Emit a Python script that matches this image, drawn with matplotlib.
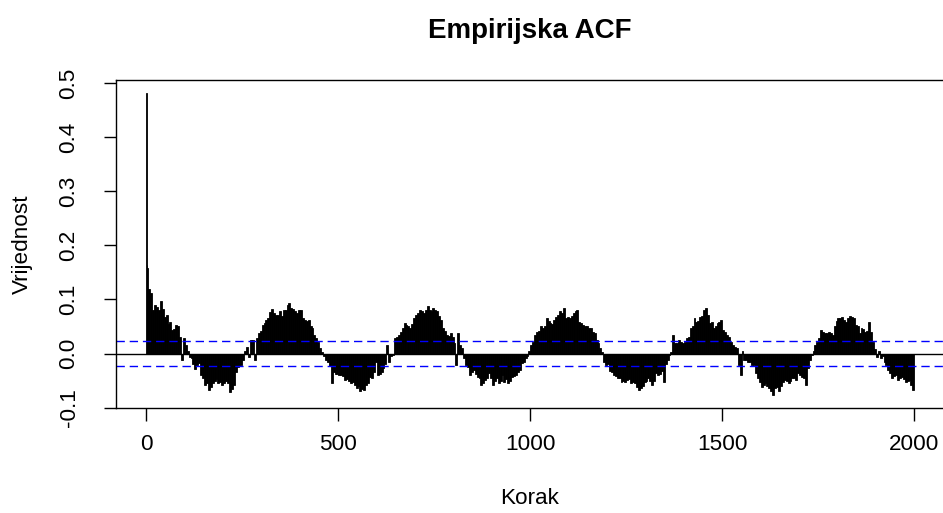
import numpy as np
import matplotlib
matplotlib.use("Agg")
import matplotlib.pyplot as plt

plt.rcParams['font.family'] = ['Liberation Sans', 'DejaVu Sans']

# ---- data ----
title = "Empirijska ACF"
x_label = "Korak"
y_label = "Vrijednost"

first_lags = [0, 1, 2, 3, 4]
first_acf = [0.482, 0.163, 0.158, 0.120, 0.118]

# ACF values for 5-lag bins starting at lag 5, 10, ..., 1995
bin_acf = [
    0.120, 0.111, 0.080, 0.089, 0.086, 0.080, 0.097, 0.083, 0.068,               # 5-45
    0.071, 0.055, 0.058, 0.043, 0.045, 0.052, 0.050, 0.030, -0.012, 0.028,       # 50-95
    0.015, 0.004, -0.006, -0.008, -0.020, -0.028, -0.022, -0.018, -0.040, -0.045,  # 100-145
    -0.058, -0.055, -0.068, -0.062, -0.055, -0.050, -0.048, -0.055, -0.052, -0.058,  # 150-195
    -0.055, -0.050, -0.055, -0.071, -0.065, -0.058, -0.035, -0.025, -0.022, -0.022,  # 200-245
    -0.012, 0.005, 0.012, -0.006, 0.025, 0.025, -0.012, 0.028, 0.037, 0.042,     # 250-295
    0.052, 0.056, 0.062, 0.065, 0.077, 0.083, 0.075, 0.072, 0.071, 0.078,        # 300-345
    0.070, 0.081, 0.080, 0.090, 0.093, 0.084, 0.083, 0.078, 0.075, 0.081,        # 350-395
    0.080, 0.065, 0.062, 0.060, 0.062, 0.050, 0.047, 0.035, 0.028, 0.022,        # 400-445
    0.010, 0.003, -0.004, -0.012, -0.015, -0.024, -0.055, -0.035, -0.037, -0.038,  # 450-495
    -0.040, -0.040, -0.042, -0.049, -0.047, -0.050, -0.055, -0.053, -0.058, -0.064,  # 500-545
    -0.060, -0.070, -0.065, -0.068, -0.058, -0.055, -0.043, -0.045, -0.035, -0.015,  # 550-595
    -0.040, -0.038, -0.035, -0.027, -0.020, 0.016, -0.015, -0.005, -0.003, 0.028,  # 600-645
    0.030, 0.035, 0.040, 0.047, 0.056, 0.052, 0.050, 0.048, 0.055, 0.065,        # 650-695
    0.072, 0.075, 0.081, 0.078, 0.075, 0.080, 0.087, 0.081, 0.078, 0.084,        # 700-745
    0.080, 0.078, 0.070, 0.062, 0.047, 0.042, 0.035, 0.033, 0.038, 0.030,        # 750-795
    0.019, -0.021, 0.038, 0.016, 0.010, -0.009, -0.021, -0.025, -0.040, -0.035,  # 800-845
    -0.030, -0.038, -0.043, -0.045, -0.058, -0.055, -0.049, -0.045, -0.036, -0.045,  # 850-895
    -0.058, -0.050, -0.046, -0.055, -0.050, -0.040, -0.052, -0.048, -0.055, -0.050,  # 900-945
    -0.043, -0.042, -0.040, -0.035, -0.030, -0.018, -0.015, -0.009, -0.004, 0.004,  # 950-995
    0.015, 0.022, 0.035, 0.040, 0.042, 0.050, 0.048, 0.050, 0.065, 0.060,        # 1000-1045
    0.056, 0.055, 0.062, 0.068, 0.071, 0.078, 0.075, 0.085, 0.065, 0.068,        # 1050-1095
    0.066, 0.070, 0.075, 0.078, 0.081, 0.059, 0.056, 0.053, 0.050, 0.050,        # 1100-1145
    0.048, 0.047, 0.040, 0.038, 0.025, 0.020, 0.010, 0.003, -0.015, -0.021,      # 1150-1195
    -0.020, -0.033, -0.035, -0.040, -0.042, -0.046, -0.045, -0.052, -0.050, -0.052,  # 1200-1245
    -0.049, -0.047, -0.055, -0.053, -0.055, -0.062, -0.067, -0.064, -0.060, -0.052,  # 1250-1295
    -0.050, -0.046, -0.050, -0.058, -0.050, -0.036, -0.040, -0.038, -0.033, -0.052,  # 1300-1345
    -0.020, -0.012, -0.002, 0.003, 0.035, 0.019, 0.020, 0.025, 0.022, 0.020,     # 1350-1395
    0.022, 0.028, 0.030, 0.047, 0.050, 0.065, 0.059, 0.060, 0.068, 0.070,        # 1400-1445
    0.081, 0.084, 0.071, 0.056, 0.058, 0.047, 0.050, 0.056, 0.059, 0.062,        # 1450-1495
    0.044, 0.040, 0.035, 0.030, 0.022, 0.016, 0.012, 0.010, -0.021, -0.040,      # 1500-1545
    0.004, -0.012, -0.012, -0.015, -0.015, -0.021, -0.022, -0.036, -0.045, -0.052,  # 1550-1595
    -0.061, -0.058, -0.055, -0.060, -0.064, -0.070, -0.076, -0.064, -0.062, -0.070,  # 1600-1645
    -0.060, -0.052, -0.049, -0.050, -0.055, -0.050, -0.046, -0.045, -0.049, -0.036,  # 1650-1695
    -0.040, -0.043, -0.045, -0.058, -0.027, -0.012, -0.003, 0.005, 0.016, 0.022,  # 1700-1745
    0.028, 0.044, 0.040, 0.038, 0.038, 0.040, 0.037, 0.035, 0.050, 0.060,        # 1750-1795
    0.065, 0.065, 0.068, 0.062, 0.059, 0.065, 0.070, 0.067, 0.065, 0.053,        # 1800-1845
    0.050, 0.038, 0.047, 0.045, 0.040, 0.042, 0.059, 0.040, 0.022, 0.008,        # 1850-1895
    -0.006, 0.004, -0.008, -0.005, -0.015, -0.021, -0.030, -0.036, -0.046, -0.042,  # 1900-1945
    -0.040, -0.049, -0.045, -0.043, -0.048, -0.052, -0.050, -0.049, -0.058, -0.067,  # 1950-1995
]

ci_level = 0.023
x_ticks = [0, 500, 1000, 1500, 2000]
y_ticks = [-0.1, 0.0, 0.1, 0.2, 0.3, 0.4, 0.5]
y_tick_labels = ["-0.1", "0.0", "0.1", "0.2", "0.3", "0.4", "0.5"]

# ---- build bar table ----
bin_lags = list(range(5, 2000, 5))
n = min(len(bin_lags), len(bin_acf))
lags = np.array(first_lags + bin_lags[:n], dtype=float)
acf = np.array(first_acf + bin_acf[:n], dtype=float)
widths = np.diff(np.append(lags, lags[-1] + 5))

# ---- figure ----
W, H = 943, 513
fig = plt.figure(figsize=(W / 100, H / 100), dpi=100)
left_px, right_px, top_px, bottom_px = 115.7, 945.0, 80.0, 408.0
ax = fig.add_axes([left_px / W, 1 - bottom_px / H,
                   (right_px - left_px) / W, (bottom_px - top_px) / H])

ax.bar(lags, acf, width=widths, align='edge', color='black',
       edgecolor='black', linewidth=0.6)
ax.axhline(0, color='black', linewidth=1.0)
for c in (ci_level, -ci_level):
    ax.axhline(c, color='#0000FF', linewidth=1.0, linestyle=(0, (6, 3.5)))

ax.set_xlim(-80, 2080)
ax.set_ylim(-0.1007, 0.5055)
ax.set_xticks(x_ticks)
ax.set_xticklabels([str(t) for t in x_ticks])
ax.set_yticks(y_ticks)
ax.set_yticklabels(y_tick_labels, rotation=90, va='center')

for s in ax.spines.values():
    s.set_linewidth(1.0)
    s.set_color('black')

ax.tick_params(axis='both', direction='out', length=9, width=1.0,
               labelsize=16.2, colors='black')
ax.tick_params(axis='x', pad=10)
ax.tick_params(axis='y', pad=17)

fig.text(530 / W, 1 - 31 / H, title, ha='center', va='center',
         fontsize=20, fontweight='bold')
fig.text(530 / W, 1 - 498 / H, x_label, ha='center', va='center', fontsize=16.2)
fig.text(22 / W, 1 - 244 / H, y_label, ha='center', va='center',
         fontsize=16.2, rotation=90)

fig.savefig("out.png", dpi=100)
